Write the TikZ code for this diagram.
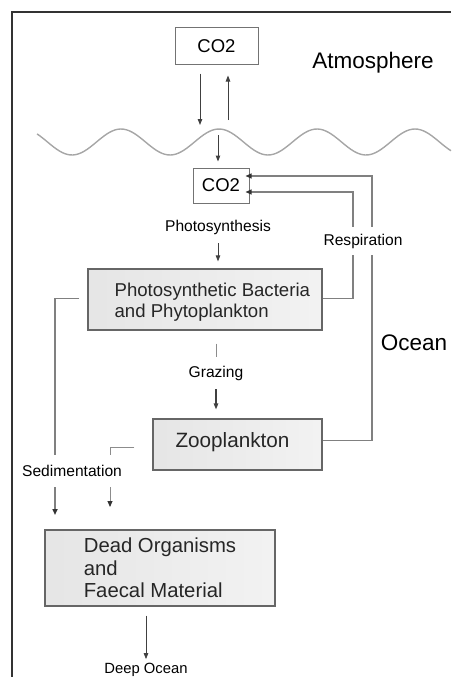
\documentclass[tikz,border=0pt]{standalone}
\usepackage{fontspec}
\setmainfont{Liberation Sans}
\usetikzlibrary{arrows.meta}

\begin{document}
\begin{tikzpicture}[x=1pt, y=-1pt]
  \tikzset{
    gas_box/.style={draw=black!55, line width=1pt, fill=white, inner sep=0pt,
      font=\fontsize{18.5}{20}\selectfont},
    bio_box/.style={draw=black!60, line width=1.2pt, left color=black!10,
      right color=black!5, inner sep=0pt, align=left, text=black!85},
    region/.style={font=\fontsize{22.5}{25}\selectfont},
    flow_lbl/.style={font=\fontsize{15.6}{17}\selectfont, inner sep=1pt},
    flow/.style={draw=black!75, line width=1pt,
      -{Triangle[length=6pt, width=4.5pt]}},
    loop/.style={draw=black!50, line width=1.3pt,
      -{Triangle[length=6pt, width=5pt, color=black!80]}},
  }
  \useasboundingbox (0,0) rectangle (451,677);

  % frame
  \draw[line width=1.8pt, black!80] (12,677) -- (12,12) -- (451,12);

  % sea surface
  \draw[black!35, line width=1.4pt]
    plot[domain=37:451, samples=150, smooth] (\x, {142-13*cos((\x-219)*3.6735)});

  % compartments
  \node[gas_box, minimum width=83pt, minimum height=37pt] (co2_air) at (216.5,46.5) {CO2};
  \node[gas_box, minimum width=56pt, minimum height=35pt] (co2_sea) at (221,185.5) {CO2};
  \node[bio_box, minimum width=234pt, minimum height=61pt] (phyto) at (205,299.5) {};
  \node[anchor=west, align=left, inner sep=0pt, text=black!85,
    font=\fontsize{18.6}{21}\selectfont] (phyto_txt) at ([xshift=27pt, yshift=-3pt]phyto.west)
    {Photosynthetic Bacteria\\and Phytoplankton};
  \node[bio_box, minimum width=169pt, minimum height=51pt] (zoo) at (237.5,444.5) {};
  \node[text=black!85, inner sep=0pt, font=\fontsize{20.7}{22}\selectfont]
    (zoo_txt) at ([xshift=-5pt, yshift=2pt]zoo.center) {Zooplankton};
  \node[bio_box, minimum width=230pt, minimum height=76pt,
    font=\fontsize{20.3}{22.5}\selectfont] (dead) at (160,568)
    {Dead Organisms\\and\\Faecal Material};

  % regions
  \node[region] (atmos) at (373,63) {Atmosphere};
  \node[region] (ocean) at (414,343) {Ocean};

  % air - sea exchange
  \coordinate (air_in) at (200,125);
  \coordinate (air_out) at (228,120);
  \coordinate (sea_in) at (218,135);
  \draw[flow, shorten <=8pt] (co2_air.south -| air_in) -- (air_in);
  \draw[flow, shorten >=10pt] (air_out) -- (co2_air.south -| air_out);
  \draw[flow, shorten >=6pt] (sea_in) -- (co2_sea.north -| sea_in);

  % respiration
  \coordinate (resp_out) at (372,176);
  \coordinate (resp_in) at (353,192);
  \draw[loop, shorten >=-4pt] ([yshift=4pt]zoo.east) -| (resp_out) -- (co2_sea.east |- resp_out);
  \draw[loop, shorten >=-4pt] ([yshift=1pt]phyto.east) -| (resp_in) -- (co2_sea.east |- resp_in);
  \node[flow_lbl, fill=white, minimum height=28pt] (resp) at (363,241) {Respiration};

  % photosynthesis
  \node[flow_lbl, minimum height=32pt] (photo) at (218,227) {Photosynthesis};
  \draw[flow, line width=0.8pt, shorten >=7pt] (photo.south) -- (phyto.north -| photo);

  % grazing
  \node[flow_lbl, minimum height=32pt] (graze) at (216,373) {Grazing};
  \draw[black!45, line width=1pt, shorten <=13pt] (phyto.south -| graze) -- (graze.north);
  \draw[flow, line width=1.2pt, shorten >=9pt] (graze.south) -- (zoo.north -| graze);

  % sedimentation
  \coordinate (sed_a) at (55,515);
  \coordinate (sed_b) at (110,507);
  \draw[loop, line width=1.8pt, shorten <=8pt] ([yshift=1pt]phyto.west) -| (sed_a);
  \draw[black!45, line width=0.9pt, shorten <=18pt,
    -{Triangle[length=6pt, width=5pt, color=black!80]}] ([yshift=-3pt]zoo.west) -| (sed_b);
  \node[flow_lbl, fill=white, minimum height=32pt] (sed) at (72,471) {Sedimentation};

  % export
  \node[flow_lbl, font=\fontsize{14.8}{17}\selectfont] (deep) at (146,670) {Deep Ocean};
  \draw[flow, line width=0.8pt, shorten <=9pt, shorten >=3pt] (dead.south -| deep) -- (deep.north);
\end{tikzpicture}
\end{document}
